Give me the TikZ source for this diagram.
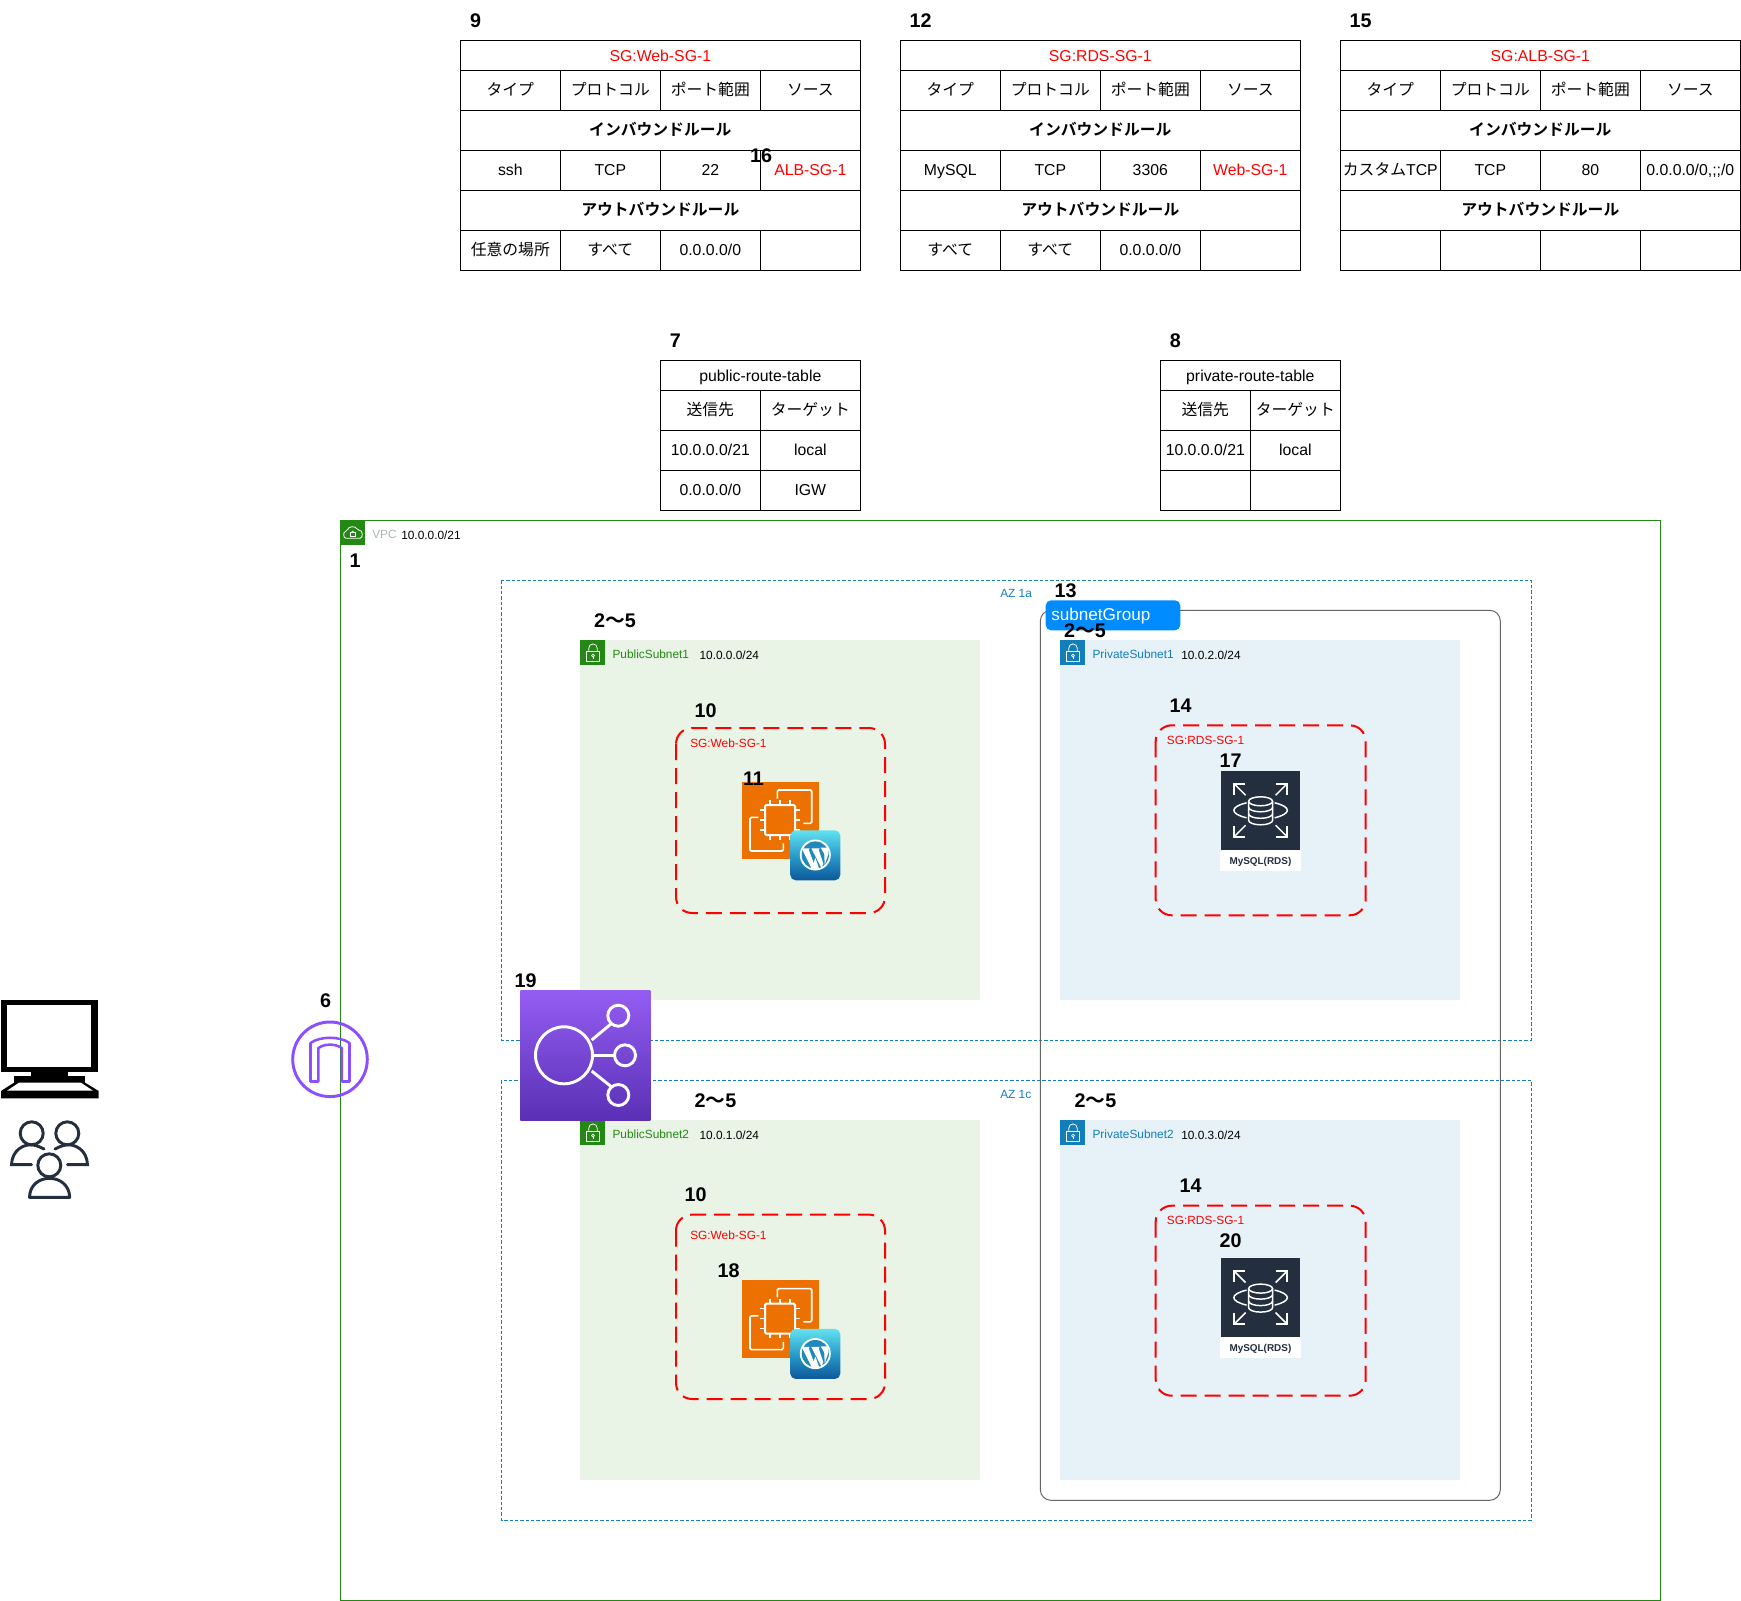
\documentclass[tikz,border=0pt]{standalone}
\usepackage{fontspec}
\setmainfont{Liberation Sans}
\newfontfamily\jp[BoldFont=Noto Sans CJK JP Bold]{Noto Sans CJK JP}
\usepackage{tikz}
\usetikzlibrary{positioning}
\definecolor{awsgreen}{HTML}{248814}
\definecolor{awsblue}{HTML}{147EBA}
\definecolor{awsnavy}{HTML}{232F3E}
\definecolor{awspurple}{HTML}{8C4FFF}
\definecolor{vpcgrey}{HTML}{AAB7B8}
\definecolor{pubfill}{HTML}{E9F3E6}
\definecolor{prifill}{HTML}{E6F2F8}
\definecolor{grpblue}{HTML}{008CFF}
\definecolor{ecorange}{HTML}{ED7100}
\definecolor{wptop}{HTML}{62E2F0}
\definecolor{wpmid}{HTML}{2A9CCB}
\definecolor{wpbot}{HTML}{0C5899}
\definecolor{albtop}{HTML}{945DF2}
\definecolor{albbot}{HTML}{5A30B5}
\newcommand{\sizept}[1]{\fontsize{#1}{#1}\selectfont}
% lock square of a subnet
\newcommand{\lockicon}[3]{
	\begin{scope}[shift={(#1,#2)}]
		\fill[#3] (0,0) rectangle (25,25);
		\draw[white,line width=0.6pt] (6.4,11.4) rectangle (19,21.4);
		\draw[white,line width=0.6pt] (8.5,11.4) -- (8.5,7.8) arc (180:360:4.2) -- (16.9,11.4);
		\draw[white,line width=0.5pt] (12.7,15.4) circle (1.5);
		\draw[white,line width=0.5pt] (12.7,16.9) -- (12.7,19);
	\end{scope}
}
% orange instance square with the blue badge
\newcommand{\ecicon}[2]{
	\begin{scope}[shift={(#1,#2)}]
		\fill[ecorange] (0,0) rectangle (77.6,77.6);
		\draw[white,line width=1.2pt,rounded corners=1pt] (35.6,17) -- (35.6,8.3) -- (70,8.3) -- (70,41.6) -- (61.6,41.6);
		\draw[white,line width=1.2pt,rounded corners=1pt] (16.6,35.6) -- (8.3,35.6) -- (8.3,69.3) -- (41.6,69.3) -- (41.6,61.6);
		\draw[white,line width=1.5pt,rounded corners=1pt] (23.3,23.3) rectangle (53.3,53.3);
		\foreach \p in {28.3,38.3,48.3} {
			\draw[white,line width=1.2pt] (\p,23.3) -- (\p,18.6);
			\draw[white,line width=1.2pt] (\p,53.3) -- (\p,58);
			\draw[white,line width=1.2pt] (23.3,\p) -- (18.6,\p);
			\draw[white,line width=1.2pt] (53.3,\p) -- (58,\p);
		}
		\shade[rounded corners=4pt,top color=wptop,bottom color=wpbot,middle color=wpmid] (48.6,48.6) rectangle (98.6,98.6);
		\fill[white] (73.6,73.3) circle (15.5);
		\fill[wpmid!70!wpbot] (73.6,73.3) circle (13.6);
		\fill[white] (60.6,66.6) -- (68,66.6) -- (67,68) -- (73.6,85.6) -- (70.4,87.6) -- (61.6,70) -- cycle;
		\fill[white] (69.6,66.6) -- (78,66.6) -- (77,68) -- (81.6,82) -- (79.6,86) -- cycle;
		\fill[white] (79,66) -- (86.5,66) -- (86.8,72) -- (83,83) -- (82.5,72) -- cycle;
		\fill[white] (73.6,76) -- (77.6,87.4) -- (70,87.4) -- cycle;
	\end{scope}
}
% navy database square
\newcommand{\rdsicon}[2]{
	\begin{scope}[shift={(#1,#2)}]
		\fill[white] (-40.3,39.6) rectangle (40,60.4);
		\fill[awsnavy] (-39.3,-39.3) rectangle (39.3,39.3);
		\draw[white,line width=1.1pt] (-12,-9) -- (-12,10) arc (180:0:12 and 4.5) -- (12,-9);
		\draw[white,line width=1.1pt] (0,-9) ellipse (12 and 4.5);
		\draw[white,line width=1.1pt] (-12,-3) arc (180:0:12 and 4.5);
		\draw[white,line width=1.1pt] (-12,3.5) arc (180:0:12 and 4.5);
		\draw[white,line width=1.1pt] (-14,-7.5) .. controls (-31,-3.5) and (-31,3.5) .. (-14,7.5);
		\draw[white,line width=1.1pt] (14,-7.5) .. controls (31,-3.5) and (31,3.5) .. (14,7.5);
		\foreach \sx/\sy in {-1/-1,1/-1,-1/1,1/1} {
			\draw[white,line width=1.1pt] ({\sx*15},{\sy*15}) -- ({\sx*26.5},{\sy*26.5});
			\draw[white,line width=1.1pt] ({\sx*26.5},{\sy*15.5}) -- ({\sx*26.5},{\sy*26.5}) -- ({\sx*15.5},{\sy*26.5});
		}
	\end{scope}
}
\tikzset{
	cell/.style={draw=black,line width=0.75pt,anchor=north west,inner sep=0pt,outer sep=0pt,
		minimum width=#1*0.75pt,text height=9.3pt,text depth=1.9pt,font=\sizept{11.85}},
	titlecell/.style={cell=#1,minimum height=22.5pt,text height=11.2pt,text depth=1.9pt},
	num/.style={font=\sizept{14.8}\bfseries,inner sep=0pt,yshift=-0.7pt},
	small/.style={anchor=west,inner sep=0pt,font=\sizept{8.9},yshift=-0.7pt},
	sgbox/.style={draw=red,line width=1.5pt,dash pattern=on 12pt off 6pt,rounded corners=12pt},
	azbox/.style={draw=awsblue,line width=0.75pt,dash pattern=on 2.4pt off 1.6pt}
}
\begin{document}
\begin{tikzpicture}[x=0.75pt,y=-0.75pt]
	\useasboundingbox (0,0) rectangle (1741,1601);
	\fill[white] (0,0) rectangle (1741,1601);

	% security group tables
	\foreach \tn/\tx/\ttl in {web/460.3/SG:Web-SG-1,rds/900.3/SG:RDS-SG-1,alb/1340.3/SG:ALB-SG-1} {
		\node[titlecell=400,text=red] (\tn-title) at (\tx,40.3) {\ttl};
		\foreach \i/\txt in {0/タイプ,1/プロトコル,2/ポート範囲,3/ソース}
			\node[cell=100,minimum height=30pt] (\tn-head\i) at ({\tx+\i*100},70.3) {\jp\txt};
		\node[cell=400,minimum height=30pt] (\tn-in) at (\tx,110.3) {\jp\bfseries インバウンドルール};
		\node[cell=400,minimum height=30pt] (\tn-out) at (\tx,190.3) {\jp\bfseries アウトバウンドルール};
	}
	\foreach \i/\txt in {0/ssh,1/TCP,2/22,3/\textcolor{red}{ALB-SG-1}}
		\node[cell=100,minimum height=30pt] (web-a\i) at ({460.3+\i*100},150.3) {\txt};
	\foreach \i/\txt in {0/{\jp 任意の場所},1/{\jp すべて},2/{0.0.0.0/0},3/{}}
		\node[cell=100,minimum height=30pt] (web-b\i) at ({460.3+\i*100},230.3) {\txt};
	\foreach \i/\txt in {0/MySQL,1/TCP,2/3306,3/\textcolor{red}{Web-SG-1}}
		\node[cell=100,minimum height=30pt] (rds-a\i) at ({900.3+\i*100},150.3) {\txt};
	\foreach \i/\txt in {0/{\jp すべて},1/{\jp すべて},2/{0.0.0.0/0},3/{}}
		\node[cell=100,minimum height=30pt] (rds-b\i) at ({900.3+\i*100},230.3) {\txt};
	\foreach \i/\txt in {0/{{\jp カスタム}TCP},1/TCP,2/80,3/{0.0.0.0/0,;;/0}}
		\node[cell=100,minimum height=30pt] (alb-a\i) at ({1340.3+\i*100},150.3) {\txt};
	\foreach \i in {0,1,2,3}
		\node[cell=100,minimum height=30pt] (alb-b\i) at ({1340.3+\i*100},230.3) {};

	% route tables
	\node[titlecell=200] (pub-title) at (660.3,360.3) {public-route-table};
	\node[cell=100,minimum height=30pt] (pub-h0) at (660.3,390.3) {\jp 送信先};
	\node[cell=100,minimum height=30pt] (pub-h1) at (760.3,390.3) {\jp ターゲット};
	\node[cell=100,minimum height=30pt] (pub-a0) at (660.3,430.3) {10.0.0.0/21};
	\node[cell=100,minimum height=30pt] (pub-a1) at (760.3,430.3) {local};
	\node[cell=100,minimum height=30pt] (pub-b0) at (660.3,470.3) {0.0.0.0/0};
	\node[cell=100,minimum height=30pt] (pub-b1) at (760.3,470.3) {IGW};
	\node[titlecell=180] (pri-title) at (1160.3,360.3) {private-route-table};
	\node[cell=90,minimum height=30pt] (pri-h0) at (1160.3,390.3) {\jp 送信先};
	\node[cell=90,minimum height=30pt] (pri-h1) at (1250.3,390.3) {\jp ターゲット};
	\node[cell=90,minimum height=30pt] (pri-a0) at (1160.3,430.3) {10.0.0.0/21};
	\node[cell=90,minimum height=30pt] (pri-a1) at (1250.3,430.3) {local};
	\node[cell=90,minimum height=30pt] (pri-b0) at (1160.3,470.3) {};
	\node[cell=90,minimum height=30pt] (pri-b1) at (1250.3,470.3) {};

	% vpc
	\draw[awsgreen,line width=0.85pt] (340.3,520.3) rectangle (1660.3,1600.3);
	\fill[awsgreen] (340.3,520.3) rectangle (365.3,545.3);
	\draw[white,line width=0.6pt,rounded corners=1.5pt] (348,538.3) .. controls (343,538.3) and (343,531.5) .. (347.5,531.5)
		.. controls (348,526) and (356,526) .. (357,530.5) .. controls (363,529.5) and (363.5,538.3) .. (358,538.3) -- cycle;
	\draw[white,line width=0.5pt] (350.3,532.6) rectangle (355.3,536.3);
	\draw[white,line width=0.5pt] (351.3,532.6) arc (180:360:1.5);
	\node[small,text=vpcgrey] (vpc-name) at (372,533.5) {VPC};
	\node[small] (vpc-cidr) at (401,534.5) {10.0.0.0/21};

	% availability zones
	\draw[azbox] (501.7,580.3) rectangle (1531,1040.3);
	\draw[azbox] (501.7,1080.3) rectangle (1531,1520.3);
	\node[small,text=awsblue] (az-a) at (1000,593) {AZ 1a};
	\node[small,text=awsblue] (az-c) at (1000,1093.5) {AZ 1c};

	% subnets
	\fill[pubfill] (580.3,640.3) rectangle (980.3,1000.3);
	\fill[prifill] (1060.3,640.3) rectangle (1460.3,1000.3);
	\fill[pubfill] (580.3,1120.3) rectangle (980.3,1480.3);
	\fill[prifill] (1060.3,1120.3) rectangle (1460.3,1480.3);
	\lockicon{580.3}{640.3}{awsgreen}
	\lockicon{1060.3}{640.3}{awsblue}
	\lockicon{580.3}{1120.3}{awsgreen}
	\lockicon{1060.3}{1120.3}{awsblue}
	\node[small,text=awsgreen] (pub1-name) at (612.3,653.5) {PublicSubnet1};
	\node[small] (pub1-cidr) at (699.3,654.5) {10.0.0.0/24};
	\node[small,text=awsblue] (pri1-name) at (1092.3,653.5) {PrivateSubnet1};
	\node[small] (pri1-cidr) at (1181,654.5) {10.0.2.0/24};
	\node[small,text=awsgreen] (pub2-name) at (612.3,1133.5) {PublicSubnet2};
	\node[small] (pub2-cidr) at (699.3,1134.5) {10.0.1.0/24};
	\node[small,text=awsblue] (pri2-name) at (1092.3,1133.5) {PrivateSubnet2};
	\node[small] (pri2-cidr) at (1181,1134.5) {10.0.3.0/24};

	% subnet group
	\draw[black!60,line width=0.75pt,rounded corners=8pt] (1040.3,610.3) rectangle (1500.3,1500.3);
	\fill[grpblue,rounded corners=4pt] (1045.7,600.3) rectangle (1180.3,630.3);
	\node[small,text=white,font=\sizept{12.85}] (grp-name) at (1051,615) {subnetGroup};

	% security groups
	\draw[sgbox] (676,728) rectangle (885,913);
	\draw[sgbox] (676,1214.6) rectangle (885,1399);
	\draw[sgbox] (1155.7,725.3) rectangle (1365.7,915.3);
	\draw[sgbox] (1155.7,1205.7) rectangle (1365.7,1395.7);
	\node[small,text=red] (sg-web1) at (690,742.7) {SG:Web-SG-1};
	\node[small,text=red] (sg-web2) at (690,1234.7) {SG:Web-SG-1};
	\node[small,text=red] (sg-rds1) at (1166.7,739.7) {SG:RDS-SG-1};
	\node[small,text=red] (sg-rds2) at (1166.7,1219.7) {SG:RDS-SG-1};

	% instances and databases
	\ecicon{741.7}{781.7}
	\ecicon{741.7}{1280.3}
	\rdsicon{1260.6}{810.3}
	\rdsicon{1260.6}{1297.6}
	\node[inner sep=0pt,font=\sizept{7.45}\bfseries,text=awsnavy,yshift=-0.7pt] (rds1-name) at (1260.4,861) {MySQL(RDS)};
	\node[inner sep=0pt,font=\sizept{7.45}\bfseries,text=awsnavy,yshift=-0.7pt] (rds2-name) at (1260.4,1348.3) {MySQL(RDS)};

	% load balancer
	\shade[top color=albtop,bottom color=albbot] (520.3,990.3) rectangle (650.3,1120.3);
	\draw[white,line width=2.2pt] (564,1055.3) circle (28.5);
	\draw[white,line width=2.2pt] (618.3,1015.7) circle (10.5);
	\draw[white,line width=2.2pt] (625,1055.3) circle (10.5);
	\draw[white,line width=2.2pt] (618.3,1095) circle (10.5);
	\draw[white,line width=2.2pt] (591.7,1040) -- (611.7,1023.3);
	\draw[white,line width=2.2pt] (593,1055.3) -- (614,1055.3);
	\draw[white,line width=2.2pt] (591.7,1071) -- (611.7,1087);

	% internet gateway
	\draw[awspurple,line width=2.2pt] (330,1059.3) circle (37.3);
	\draw[awspurple,line width=1.9pt,line join=round] (310.5,1081.5) -- (310.5,1043) .. controls (320,1036) and (340,1036) .. (349.5,1043)
		-- (349.5,1081.5) -- (341.8,1081.5) -- (341.8,1048) .. controls (335,1043.5) and (325,1043.5) .. (318.3,1048) -- (318.3,1081.5) -- cycle;

	% computer
	\fill[black] (1,1000) rectangle (97.7,1071.7);
	\fill[white] (7.3,1005) rectangle (91.3,1066.7);
	\fill[black] (31,1071) rectangle (68.3,1076);
	\fill[black] (14.3,1075.7) rectangle (85,1082.7);
	\fill[black] (15,1082) -- (1,1091) -- (1,1098.3) -- (98.7,1098.3) -- (98.7,1091) -- (84,1082) -- cycle;
	\fill[white] (19,1082.7) -- (7,1090.7) -- (93,1090.7) -- (81,1082.7) -- cycle;

	% users
	\draw[awsnavy,line width=2.2pt] (31.7,1133.3) circle (11.5);
	\draw[awsnavy,line width=2.2pt] (67.3,1133.3) circle (11.5);
	\draw[awsnavy,line width=2.2pt] (49.3,1165.3) circle (11.5);
	\draw[awsnavy,line width=2.2pt,line join=round] (29.5,1197.3) .. controls (30,1172) and (69,1172) .. (69.7,1197.3) -- cycle;
	\draw[awsnavy,line width=2.2pt,line cap=round] (31.5,1164.7) -- (11.5,1164.7) .. controls (12,1150) and (24,1143.5) .. (33,1145) .. controls (37,1145.5) and (41,1147.5) .. (44,1149);
	\draw[awsnavy,line width=2.2pt,line cap=round] (67.5,1164.7) -- (87.5,1164.7) .. controls (87,1150) and (75,1143.5) .. (66,1145) .. controls (62,1145.5) and (58,1147.5) .. (55,1149);

	% numbers
	\node[num] (n9) at (475.7,20) {9};
	\node[num] (n12) at (920.7,20) {12};
	\node[num] (n15) at (1360.7,20) {15};
	\node[num] (n16) at (761,155) {16};
	\node[num] (n7) at (675.3,340) {7};
	\node[num] (n8) at (1175.3,340) {8};
	\node[num] (n1) at (355,560) {1};
	\node[num] (n25a) at (615,620) {2{\jp\bfseries 〜}5};
	\node[num] (n13) at (1065.7,590) {13};
	\node[num] (n25b) at (1085,630) {2{\jp\bfseries 〜}5};
	\node[num] (n10a) at (705.7,710) {10};
	\node[num] (n14a) at (1180.7,705) {14};
	\node[num] (n17) at (1230.7,760) {17};
	\node[num] (n11) at (753.5,778) {11};
	\node[num] (n19) at (525.7,980) {19};
	\node[num] (n6) at (325.5,1000) {6};
	\node[num] (n25c) at (715.5,1100) {2{\jp\bfseries 〜}5};
	\node[num] (n25d) at (1095.5,1100) {2{\jp\bfseries 〜}5};
	\node[num] (n10b) at (695.5,1194) {10};
	\node[num] (n18) at (728.5,1269.5) {18};
	\node[num] (n14b) at (1190.5,1185) {14};
	\node[num] (n20) at (1230.5,1240) {20};
\end{tikzpicture}
\end{document}
